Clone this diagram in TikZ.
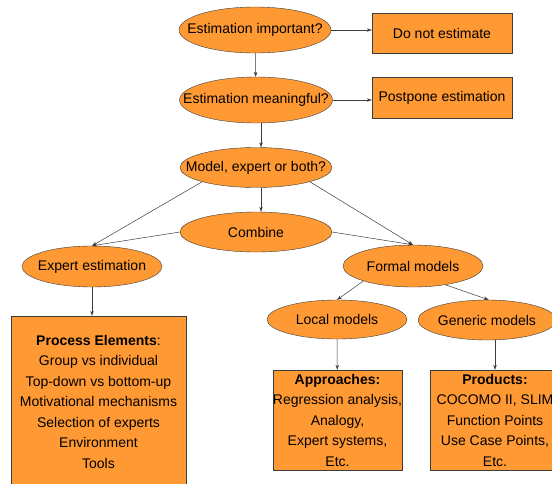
\documentclass[tikz,border=0pt]{standalone}
\usepackage{fontspec}
\setmainfont{Liberation Sans}
\usetikzlibrary{shapes.geometric,arrows.meta}
\definecolor{boxorange}{RGB}{255,153,51}
\definecolor{edgegray}{RGB}{60,60,60}
\newcommand{\squeezed}[1]{\makebox[0pt]{#1}}
\tikzset{
	decision/.style={ellipse,draw=edgegray,fill=boxorange,inner sep=0pt,font=\fontsize{14}{16}\selectfont},
	outcome/.style={rectangle,draw=edgegray,fill=boxorange,inner sep=0pt,align=center,font=\fontsize{14}{20.5}\selectfont},
	arr/.style={draw=edgegray,line width=0.5pt,-{Stealth[length=5pt,width=3.5pt]}},
	link/.style={draw=edgegray,line width=0.5pt}
}
\begin{document}
\begin{tikzpicture}[x=1pt,y=-1pt]
		\useasboundingbox (0,0) rectangle (552,483);
		% questions
		\node[decision,minimum width=152,minimum height=46] (important) at (255,30) {\squeezed{Estimation important?}};
		\node[decision,minimum width=153,minimum height=46] (meaningful) at (256,100) {\squeezed{Estimation meaningful?}};
		\node[decision,minimum width=152,minimum height=40] (model) at (256,167.5) {\squeezed{Model, expert or both?}};
		\node[decision,minimum width=152,minimum height=40] (combine) at (256,232) {\squeezed{Combine}};
		\node[decision,minimum width=140,minimum height=41] (expert) at (92,266.5) {\squeezed{Expert estimation}};
		\node[decision,minimum width=140,minimum height=42] (formal) at (413,266) {\squeezed{Formal models}};
		\node[decision,minimum width=140,minimum height=39] (local) at (337,319.5) {\squeezed{Local models}};
		\node[decision,minimum width=138,minimum height=40] (generic) at (487,320) {\squeezed{Generic models}};
		% outcomes
		\node[outcome,minimum width=140,minimum height=40] (donot) at (442,33) {Do not estimate};
		\node[outcome,minimum width=140,minimum height=41] (postpone) at (442,97.5) {Postpone estimation};
		\node[outcome,minimum width=175,minimum height=171] (process) at (98.5,401.5) {\textbf{Process Elements}:\\Group vs individual\\Top-down vs bottom-up\\Motivational mechanisms\\Selection of experts\\Environment\\Tools};
		\node[outcome,minimum width=129,minimum height=100] (approaches) at (337.5,420) {\textbf{Approaches:}\\\squeezed{Regression analysis,}\\Analogy,\\Expert systems,\\Etc.};
		\node[outcome,minimum width=130,minimum height=100] (products) at (495,420) {\textbf{Products:}\\\squeezed{COCOMO II, SLIM}\\Function Points\\\squeezed{Use Case Points,}\\Etc.};
		% connectors
		\draw[arr] (important.east) -- (important.east -| donot.west);
		\draw[arr] (meaningful.east) -- (meaningful.east -| postpone.west);
		\draw[arr] (important) -- (meaningful);
		\draw[arr] ([xshift=5pt]meaningful.south) -- ([xshift=5pt]model.north);
		\draw[arr] ([xshift=5pt]model.south) -- ([xshift=5pt]combine.north);
		\draw[arr] (model.south west) -- (expert.north);
		\draw[arr] (model.south east) -- (formal.north);
		\draw[arr] (combine.west) -- (expert.north);
		\draw[arr] (combine.east) -- (formal.north);
		\draw[arr] (formal.south west) -- (local.north);
		\draw[arr] (formal.330) -- (generic.85);
		\draw[arr] (expert) -- (expert |- process.north);
		\draw[arr] (local) -- (approaches);
		\draw[arr] (generic.south -| products) -- (products.north);
	\end{tikzpicture}
\end{document}
